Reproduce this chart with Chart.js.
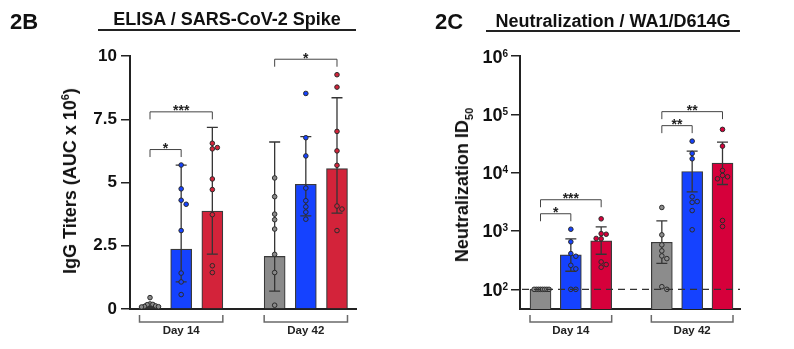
<!DOCTYPE html>
<html>
<head>
<meta charset="utf-8">
<script src="https://cdn.jsdelivr.net/npm/chart.js@4.4.1/dist/chart.umd.min.js"></script>
<style>
  body { margin: 0; background: #fff; }
  #page { position: relative; width: 794px; height: 349px; overflow: hidden;
          font-family: "Liberation Sans", Arial, sans-serif; color: #111; }
  canvas { position: absolute; top: 0; }
  .panel { position: absolute; font-weight: bold; font-size: 22px; line-height: 22px; }
  .title { position: absolute; font-weight: bold; font-size: 18px; line-height: 18px;
           text-align: center; border-bottom: 2px solid #222; white-space: nowrap; }
  .ytitle { position: absolute; font-weight: bold; font-size: 18px; line-height: 18px;
            white-space: nowrap; transform: translate(-50%, -50%) rotate(-90deg); }
  .ytitle sup, .ytitle sub { font-size: 11px; line-height: 0; }
</style>
</head>
<body>
<div id="page">
  <canvas id="elisa" width="397" height="349" style="left:0"></canvas>
  <canvas id="neut" width="397" height="349" style="left:397px"></canvas>

  <div class="panel" style="left:10px; top:11px">2B</div>
  <div class="title" style="left:98px; top:10px; width:258px; padding-bottom:1px">ELISA / SARS-CoV-2 Spike</div>
  <div class="ytitle" style="left:70px; top:181px">IgG Titers (AUC x 10<sup>6</sup>)</div>

  <div class="panel" style="left:435px; top:11px">2C</div>
  <div class="title" style="left:486px; top:12px; width:254px">Neutralization / WA1/D614G</div>
  <div class="ytitle" style="left:462px; top:185px">Neutralization ID<sub>50</sub></div>
</div>

<script>
// bars are ordered gray, blue, red for Day 14, then the same for Day 42
const days = ['Day 14', 'Day 42'];

// ELISA IgG titers, AUC x 10^6
const elisaTicks = [0, 2.5, 5, 7.5, 10];
const elisaMean = [0.12, 2.37, 3.87, 2.08, 4.93, 5.55];
const elisaErrLow = [0.07, 1.07, 2.17, 0.71, 3.68, 3.79];
const elisaErrHigh = [0.2, 5.69, 7.18, 6.6, 6.81, 8.35];
const elisaDay14 = [
  [0.45, 0.2, 0.18, 0.17, 0.12, 0.1, 0.09, 0.08],
  [5.69, 4.75, 4.3, 4.14, 3.1, 1.42, 1.07, 0.57],
  [6.55, 6.38, 6.33, 5.14, 4.72, 3.73, 1.71, 1.44],
];
const elisaDay42 = [
  [5.18, 4.44, 3.75, 3.53, 3.16, 2.16, 1.44, 0.15],
  [8.52, 6.77, 6.05, 4.78, 4.28, 4.04, 3.83, 3.55],
  [9.26, 8.77, 7.02, 6.25, 5.68, 4.07, 3.95, 3.1],
];
const elisaSig = [[0, 1, '*'], [0, 2, '***'], [3, 5, '*']];

// neutralization ID50 against WA1/D614G
const neutTicks = [1e2, 1e3, 1e4, 1e5, 1e6];
const neutMean = [100, 390, 678, 641, 10480, 14550];
const neutErrLow = [100, 204, 399, 279, 4700, 6270];
const neutErrHigh = [100, 733, 1178, 1493, 23400, 33400];
const neutDay14 = [
  [100, 100, 100, 100, 100, 100, 100, 100],
  [1072, 652, 410, 369, 258, 224, 100, 100],
  [1617, 900, 880, 745, 735, 295, 266, 239],
];
const neutDay42 = [
  [2530, 859, 579, 456, 374, 336, 111, 100],
  [34700, 21400, 17300, 3860, 3200, 3100, 2240, 1050],
  [55200, 28500, 10900, 8950, 8510, 7850, 1514, 1195],
];
const neutSig = [[0, 1, '*'], [0, 2, '***'], [3, 4, '**'], [3, 5, '**']];
const detectionLimit = 100;

// ---- layout / style ----
const FONT = '"Liberation Sans", Arial, sans-serif';
const barX = [1, 2, 3, 5, 6, 7];
const BAR_INDEX = 6;

// spread overlapping dots sideways (simple beeswarm, in approximate pixels)
function swarm(values, toPx, pxPerUnit) {
  const step = 5, minDist = 4.8, placed = [];
  values.forEach(v => {
    const y = toPx(v);
    for (let k = 0; k < 40; k++) {
      const dx = k === 0 ? 0 : Math.ceil(k / 2) * step * (k % 2 ? 1 : -1);
      if (placed.every(p => Math.hypot(p.dx - dx, p.y - y) >= minDist)) {
        placed.push({ dx, y, v });
        break;
      }
    }
  });
  const maxDx = Math.max(...placed.map(p => Math.abs(p.dx)));
  const k = maxDx > 8.5 ? 8.5 / maxDx : 1;
  return placed.map(p => ({ dx: p.dx * k / pxPerUnit, v: p.v }));
}

function decor(opts) {
  return {
    id: 'decor',
    afterDatasetDraw(chart, args) {
      if (args.index !== BAR_INDEX) return;
      const ctx = chart.ctx, ys = chart.scales.y, bars = args.meta.data;
      ctx.save();
      ctx.strokeStyle = '#353535';
      ctx.lineWidth = 1.3;
      opts.errLow.forEach((lo, i) => {
        const hi = opts.errHigh[i];
        if (hi === lo) return;
        const x = bars[i].x, y0 = ys.getPixelForValue(lo), y1 = ys.getPixelForValue(hi);
        ctx.beginPath();
        ctx.moveTo(x, y0); ctx.lineTo(x, y1);
        ctx.moveTo(x - 5.5, y0); ctx.lineTo(x + 5.5, y0);
        ctx.moveTo(x - 5.5, y1); ctx.lineTo(x + 5.5, y1);
        ctx.stroke();
      });
      ctx.restore();
    },
    afterDatasetsDraw(chart) {
      if (opts.limit == null) return;
      const ctx = chart.ctx, a = chart.chartArea;
      const y = chart.scales.y.getPixelForValue(opts.limit);
      ctx.save();
      ctx.strokeStyle = '#333';
      ctx.lineWidth = 1.2;
      ctx.setLineDash([7, 5]);
      ctx.beginPath();
      ctx.moveTo(a.left + 2, y);
      ctx.lineTo(a.right, y);
      ctx.stroke();
      ctx.restore();
    },
    afterDraw(chart) {
      const ctx = chart.ctx, a = chart.chartArea, ys = chart.scales.y;
      const bars = chart.getDatasetMeta(BAR_INDEX).data;
      ctx.save();

      // significance brackets
      const drawn = [];
      ctx.strokeStyle = '#444';
      ctx.lineWidth = 1;
      ctx.fillStyle = '#222';
      ctx.font = 'bold 14px ' + FONT;
      ctx.textAlign = 'center';
      opts.sig.forEach(([from, to, label]) => {
        let top = Infinity;
        for (let i = from; i <= to; i++) {
          const hi = Math.max(opts.errHigh[i], ...opts.dots[i]);
          top = Math.min(top, ys.getPixelForValue(hi));
        }
        let y = top - 15.5;
        drawn.forEach(d => { if (d.from <= to && d.to >= from) y = Math.min(y, d.y - 14); });
        drawn.push({ from, to, y });
        const x0 = bars[from].x, x1 = bars[to].x;
        ctx.beginPath();
        ctx.moveTo(x0, y + 7.5); ctx.lineTo(x0, y); ctx.lineTo(x1, y); ctx.lineTo(x1, y + 7.5);
        ctx.stroke();
        ctx.fillText(label, (x0 + x1) / 2, y + 3.5);
      });

      // day brackets under the axis
      ctx.strokeStyle = '#6a6a6a';
      ctx.lineWidth = 1.5;
      ctx.font = 'bold 11.5px ' + FONT;
      days.forEach((d, g) => {
        const b0 = bars[g * 3], b1 = bars[g * 3 + 2];
        const x0 = b0.x - b0.width / 2, x1 = b1.x + b1.width / 2, y = a.bottom + 13;
        ctx.beginPath();
        ctx.moveTo(x0, y - 7); ctx.lineTo(x0, y); ctx.lineTo(x1, y); ctx.lineTo(x1, y - 7);
        ctx.stroke();
        ctx.fillText(d, (x0 + x1) / 2, a.bottom + 25);
      });

      // power-of-ten tick labels
      if (opts.powerTicks) {
        ctx.fillStyle = '#111';
        opts.powerTicks.forEach(v => {
          const y = ys.getPixelForValue(v);
          const exp = String(Math.round(Math.log10(v)));
          const right = a.left - 12;
          ctx.font = 'bold 10px ' + FONT;
          const ew = ctx.measureText(exp).width;
          ctx.textAlign = 'left';
          ctx.fillText(exp, right - ew, y + 0.5);
          ctx.font = 'bold 18px ' + FONT;
          ctx.textAlign = 'right';
          ctx.fillText('10', right - ew, y + 6.5);
        });
      }
      ctx.restore();
    }
  };
}

function makePanel(id, p) {
  const dots = [...p.day14, ...p.day42];
  const datasets = dots.map((vals, i) => ({
    type: 'scatter',
    data: swarm(vals, p.toPx, p.pxPerUnit).map(d => ({ x: barX[i] + d.dx, y: d.v })),
    backgroundColor: p.colors[i],
    borderColor: '#2b2b2b',
    borderWidth: 1,
    pointRadius: 2.3,
  }));
  datasets.push({
    type: 'bar',
    data: p.mean.map((m, i) => ({ x: barX[i], y: m })),
    backgroundColor: p.colors,
    borderColor: '#3a3a3a',
    borderWidth: 1.2,
    barThickness: 21,
  });

  new Chart(document.getElementById(id), {
    type: 'bar',
    data: { datasets },
    options: {
      responsive: false,
      animation: false,
      devicePixelRatio: 1,
      layout: { padding: { left: 0, top: 56, right: p.padRight, bottom: 0 } },
      plugins: { legend: { display: false }, tooltip: { enabled: false } },
      scales: {
        x: {
          type: 'linear', min: p.xMin, max: p.xMax, offset: false,
          ticks: { display: false },
          grid: { display: false, offset: false },
          border: { display: true, color: '#222', width: 2 },
          afterFit: s => { s.height = 40; },
        },
        y: p.yScale,
      },
    },
    plugins: [decor({
      errLow: p.errLow, errHigh: p.errHigh, sig: p.sig, dots,
      limit: p.limit, powerTicks: p.powerTicks,
    })],
  });
}

const axisGrid = { display: true, drawOnChartArea: false, drawTicks: true, tickLength: 9, color: '#222', lineWidth: 1.5 };
const axisBorder = { display: true, color: '#222', width: 2 };

makePanel('elisa', {
  day14: elisaDay14, day42: elisaDay42,
  mean: elisaMean, errLow: elisaErrLow, errHigh: elisaErrHigh, sig: elisaSig,
  colors: ['#8a8a8a', '#1542ff', '#d3233a', '#8a8a8a', '#1542ff', '#d3233a'],
  toPx: v => v * 25.3, pxPerUnit: 31.2,
  xMin: 0.358, xMax: 7.61, padRight: 41,
  yScale: {
    type: 'linear', min: 0, max: 10,
    afterBuildTicks: s => { s.ticks = elisaTicks.map(v => ({ value: v })); },
    afterFit: s => { s.width = 130; },
    ticks: { color: '#111', padding: 4, font: { family: FONT, size: 17, weight: 'bold' }, callback: v => String(v) },
    grid: axisGrid,
    border: axisBorder,
  },
});

makePanel('neut', {
  day14: neutDay14, day42: neutDay42,
  mean: neutMean, errLow: neutErrLow, errHigh: neutErrHigh, sig: neutSig,
  colors: ['#8c8c8c', '#1542ff', '#d6003b', '#8c8c8c', '#1542ff', '#d6003b'],
  toPx: v => Math.log10(v) * 58.4, pxPerUnit: 30.3,
  xMin: 0.324, xMax: 7.577, padRight: 54,
  limit: detectionLimit, powerTicks: neutTicks,
  yScale: {
    type: 'logarithmic', min: 46, max: 1e6,
    afterBuildTicks: s => { s.ticks = neutTicks.map(v => ({ value: v })); },
    afterFit: s => { s.width = 123; },
    ticks: { display: false },
    grid: axisGrid,
    border: axisBorder,
  },
});
</script>
</body>
</html>
